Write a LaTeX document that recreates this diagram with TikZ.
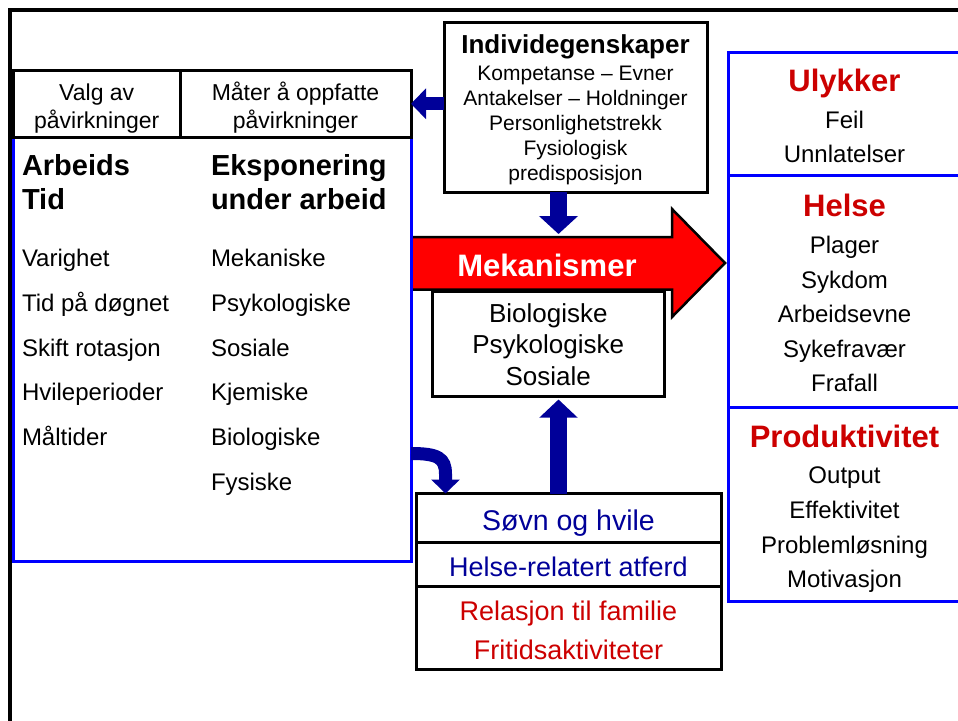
\documentclass[tikz,border=0pt]{standalone}
\usepackage{fontspec}
\setmainfont{Liberation Sans}
\usetikzlibrary{arrows.meta}
\definecolor{navy}{RGB}{0,0,153}
\definecolor{dred}{RGB}{204,0,0}
\definecolor{bblue}{RGB}{0,0,255}
\definecolor{ared}{RGB}{255,0,0}
\begin{document}
\begin{tikzpicture}[x=1pt,y=-1pt,
  kbox/.style={draw=black,line width=3pt,inner sep=0pt,outer sep=0pt,fill=white,anchor=north west},
  bbox/.style={draw=bblue,line width=3pt,inner sep=0pt,outer sep=0pt,anchor=north west},
  t/.style={inner sep=0pt,outer sep=0pt,anchor=base},
  f21/.style={font=\fontsize{21}{25}\selectfont},
  f23/.style={font=\fontsize{23}{27}\selectfont},
  f24/.style={font=\fontsize{24}{28}\selectfont},
  f26/.style={font=\fontsize{26}{30}\selectfont},
  f27/.style={font=\fontsize{27}{31}\selectfont},
  f28/.style={font=\fontsize{28.5}{32}\selectfont},
  b26/.style={font=\bfseries\fontsize{26}{30}\selectfont},
  b28/.style={font=\bfseries\fontsize{29}{33}\selectfont},
  b31/.style={font=\bfseries\fontsize{31}{35}\selectfont},
  barrow/.style={draw=navy,line width=#1},
]
\clip (0,0) rectangle (958,720);
% outer frame
\draw[line width=4pt] (10,730) -- (10,10) -- (970,10);

% red mechanism arrow
\fill[ared] (412,237) -- (672,237) -- (672,209) -- (725,263) -- (672,317) -- (672,289.5) -- (412,289.5) -- cycle;
\draw[line width=2.5pt,line join=miter] (412,237) -- (672,237) -- (672,209) -- (725,263) -- (672,317) -- (672,289.5) -- (412,289.5);
\coordinate (redtop) at (412,234);
\node[t,b31,text=white] (mek) at (547,276) {Mekanismer};

% boxes
\node[bbox,minimum width=397.5pt,minimum height=423.5pt] (work) at (13.5,137.5) {};
\node[kbox,minimum width=166.5pt,minimum height=67.5pt] (valg) at (13.5,70) {};
\node[kbox,minimum width=231pt,minimum height=67.5pt] (maater) at (180,70) {};
\node[kbox,minimum width=263pt,minimum height=170pt] (indiv) at (444,22) {};
\node[kbox,minimum width=232.5pt,minimum height=105pt] (bio) at (432,291.5) {};
\node[kbox,minimum width=305pt,minimum height=48.5pt] (sleep) at (416,493.5) {};
\node[kbox,minimum width=305pt,minimum height=44.5pt] (hrel) at (416,542) {};
\node[kbox,minimum width=305pt,minimum height=83pt] (rel) at (416,586.5) {};
\node[bbox,minimum width=233pt,minimum height=123pt] (ulyk) at (728,52) {};
\node[bbox,minimum width=233pt,minimum height=232pt] (helse) at (728,175) {};
\node[bbox,minimum width=233pt,minimum height=194.5pt] (prod) at (728,407) {};

% blue block arrows
\coordinate (vx) at (558.5,0);
\coordinate (cx) at (445.5,0);
\draw[barrow=13pt,-{Triangle[length=15pt,width=30pt]}] (indiv.west |- maater.east) -- (maater.east);
\draw[barrow=17pt,-{Triangle[length=18pt,width=38pt]}] (indiv.south -| vx) -- (redtop -| vx);
\draw[barrow=17pt,-{Triangle[length=18pt,width=37pt]}] (sleep.north -| vx) -- ([yshift=-3pt]bio.south -| vx);
\coordinate (cstart) at (412,453.5);
\draw[barrow=13pt,-{Triangle[length=14pt,width=28pt]}] (work.east |- cstart) .. controls (438,453.5) and (445.5,458) .. (445.5,474) -- (sleep.north -| cx);

% texts: top-left boxes
\node[t,f23] (v1) at (96.75,100) {Valg av};
\node[t,f23] (v2) at (96.75,128) {påvirkninger};
\node[t,f23] (m1) at (295.5,100) {Måter å oppfatte};
\node[t,f23] (m2) at (295.5,128) {påvirkninger};

% individ
\node[t,b26] (i0) at (575.5,53) {Individegenskaper};
\node[t,f21] (i1) at (575.5,80) {Kompetanse – Evner};
\node[t,f21] (i2) at (575.5,105) {Antakelser – Holdninger};
\node[t,f21] (i3) at (575.5,130) {Personlighetstrekk};
\node[t,f21] (i4) at (575.5,155) {Fysiologisk};
\node[t,f21] (i5) at (575.5,180) {predisposisjon};

% work box texts
\node[t,b28,anchor=base west] (a1) at (22,175) {Arbeids};
\node[t,b28,anchor=base west] (a2) at (22,209) {Tid};
\node[t,b28,anchor=base west] (e1) at (211,175) {Eksponering};
\node[t,b28,anchor=base west] (e2) at (211,209) {under arbeid};
\node[t,f24,anchor=base west] (l1) at (22,266) {Varighet};
\node[t,f24,anchor=base west] (l2) at (22,311) {Tid på døgnet};
\node[t,f24,anchor=base west] (l3) at (22,356) {Skift rotasjon};
\node[t,f24,anchor=base west] (l4) at (22,400) {Hvileperioder};
\node[t,f24,anchor=base west] (l5) at (22,445) {Måltider};
\node[t,f24,anchor=base west] (r1) at (211,266) {Mekaniske};
\node[t,f24,anchor=base west] (r2) at (211,311) {Psykologiske};
\node[t,f24,anchor=base west] (r3) at (211,356) {Sosiale};
\node[t,f24,anchor=base west] (r4) at (211,400) {Kjemiske};
\node[t,f24,anchor=base west] (r5) at (211,445) {Biologiske};
\node[t,f24,anchor=base west] (r6) at (211,490) {Fysiske};

% bio
\node[t,f26] (b1) at (548.25,322) {Biologiske};
\node[t,f26] (b2) at (548.25,353) {Psykologiske};
\node[t,f26] (b3) at (548.25,385) {Sosiale};

% stack
\node[t,f28,text=navy] (s1) at (568.5,530) {Søvn og hvile};
\node[t,f27,text=navy] (s2) at (568.5,576) {Helse-relatert atferd};
\node[t,f27,text=dred] (s3) at (568.5,620) {Relasjon til familie};
\node[t,f27,text=dred] (s4) at (568.5,659) {Fritidsaktiviteter};

% right column
\node[t,b31,text=dred] (u0) at (844.5,91) {Ulykker};
\node[t,f24] (u1) at (844.5,128) {Feil};
\node[t,f24] (u2) at (844.5,162) {Unnlatelser};
\node[t,b31,text=dred] (h0) at (844.5,216) {Helse};
\node[t,f24] (h1) at (844.5,253.5) {Plager};
\node[t,f24] (h2) at (844.5,288) {Sykdom};
\node[t,f24] (h3) at (844.5,322.5) {Arbeidsevne};
\node[t,f24] (h4) at (844.5,357) {Sykefravær};
\node[t,f24] (h5) at (844.5,391.5) {Frafall};
\node[t,b31,text=dred] (p0) at (844.5,447) {Produktivitet};
\node[t,f24] (p1) at (844.5,483) {Output};
\node[t,f24] (p2) at (844.5,518) {Effektivitet};
\node[t,f24] (p3) at (844.5,553) {Problemløsning};
\node[t,f24] (p4) at (844.5,587) {Motivasjon};
\end{tikzpicture}
\end{document}
